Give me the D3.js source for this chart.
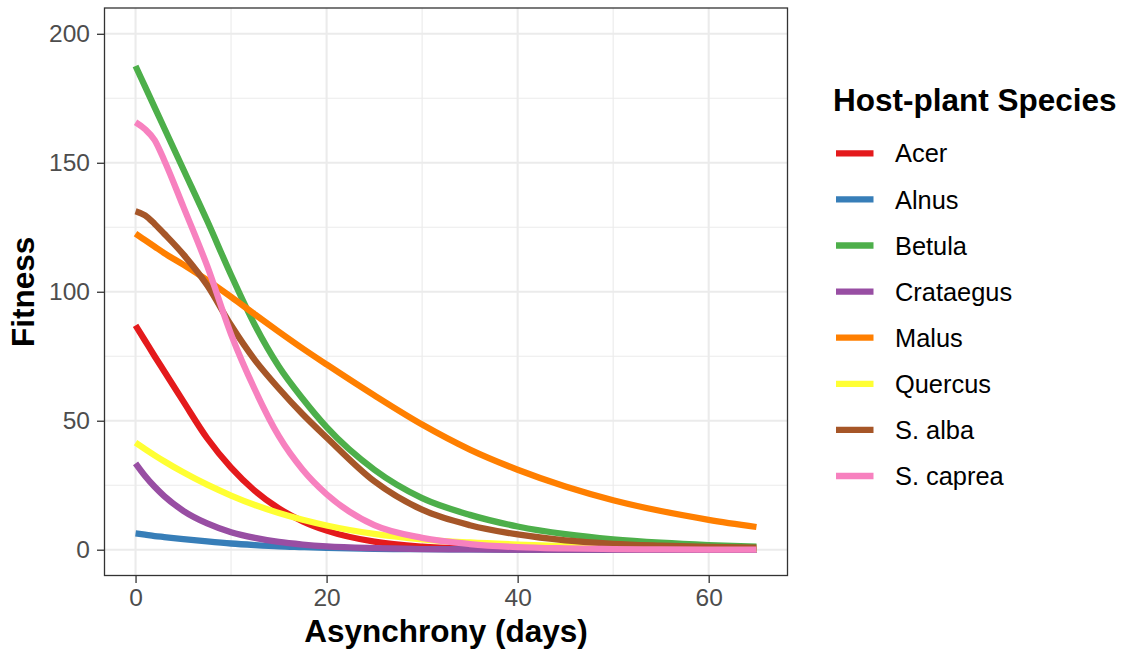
<!DOCTYPE html>
<html>
<head>
<meta charset="utf-8">
<script src="https://cdn.jsdelivr.net/npm/d3@7"></script>
<style>
  html, body { margin: 0; padding: 0; background: #ffffff; }
  svg { display: block; font-family: "Liberation Sans", Arial, sans-serif; }
</style>
</head>
<body>
<svg id="chart" width="1122" height="652"></svg>
<script>
// Asynchrony (days) at which each fitted curve is sampled
const days = [0, 1, 2, 3, 5, 7.5, 10, 12.5, 15, 17.5, 20, 25, 30, 35, 40, 45, 50, 55, 60, 65];

// Predicted fitness per host-plant species
const acer      = [87, 81, 75, 69.2, 57.5, 43.2, 31.8, 22.8, 16, 11, 7.4, 3.1, 1.2, 0.45, 0.15, 0.05, 0.02, 0, 0, 0];
const alnus     = [6.3, 5.8, 5.3, 4.9, 4.1, 3.2, 2.4, 1.8, 1.3, 1.0, 0.7, 0.35, 0.2, 0.1, 0.05, 0.03, 0.02, 0.01, 0.01, 0.01];
const betula    = [187.5, 179.5, 171.5, 163.5, 147.5, 127.5, 106.5, 87, 71, 58.5, 47.5, 31, 20, 13.5, 9, 6, 4, 2.7, 1.8, 1.2];
const crataegus = [33.5, 28.6, 24.4, 20.8, 15.1, 10.2, 6.8, 4.6, 3.0, 2.0, 1.3, 0.6, 0.25, 0.1, 0.05, 0.02, 0, 0, 0, 0];
const malus     = [122.5, 120, 117.5, 115, 110.5, 104.5, 98, 91.2, 84.5, 78, 71.8, 59.8, 48.5, 38.8, 31, 24.5, 19.2, 15, 11.6, 8.8];
const quercus   = [41.5, 39, 36.6, 34.3, 30, 25.2, 21, 17.3, 14.2, 11.6, 9.4, 6.1, 4, 2.8, 2, 1.4, 1, 0.7, 0.5, 0.35];
const sAlba     = [131.2, 129.6, 126.3, 122.5, 114.5, 102.5, 87, 73.5, 62.5, 52.5, 43.5, 26.5, 15.5, 9.5, 5.9, 3.6, 2.3, 1.6, 1.1, 0.8];
const sCaprea   = [165.7, 163, 158.8, 151, 133, 110, 83.5, 62, 44, 31, 21.5, 9.5, 4.6, 2.2, 1.0, 0.5, 0.25, 0.1, 0.05, 0];

const speciesNames = ["Acer", "Alnus", "Betula", "Crataegus", "Malus", "Quercus", "S. alba", "S. caprea"];
const speciesValues = [acer, alnus, betula, crataegus, malus, quercus, sAlba, sCaprea];
const speciesColors = ["#E41A1C", "#377EB8", "#4DAF4A", "#984EA3", "#FF7F00", "#FFFF33", "#A65628", "#F781BF"];

// Axis breaks and titles
const xTicks = [0, 20, 40, 60];
const xMinor = [10, 30, 50];
const yTicks = [0, 50, 100, 150, 200];
const yMinor = [25, 75, 125, 175];
const xTitle = "Asynchrony (days)";
const yTitle = "Fitness";
const legendTitle = "Host-plant Species";

const svg = d3.select("#chart");
const panel = { left: 104.5, right: 787.5, top: 8, bottom: 575.5 };

const x = d3.scaleLinear().domain([-3.25, 68.25]).range([panel.left, panel.right]);
const y = d3.scaleLinear().domain([-10, 210]).range([panel.bottom, panel.top]);

svg.append("rect").attr("width", 1122).attr("height", 652).attr("fill", "#ffffff");

// Grid: minor first, then major
const grid = svg.append("g");
grid.selectAll("line.xminor").data(xMinor).join("line")
  .attr("x1", d => x(d)).attr("x2", d => x(d))
  .attr("y1", panel.top).attr("y2", panel.bottom)
  .attr("stroke", "#EBEBEB").attr("stroke-width", 1.1);
grid.selectAll("line.yminor").data(yMinor).join("line")
  .attr("y1", d => y(d)).attr("y2", d => y(d))
  .attr("x1", panel.left).attr("x2", panel.right)
  .attr("stroke", "#EBEBEB").attr("stroke-width", 1.1);
grid.selectAll("line.xmajor").data(xTicks).join("line")
  .attr("x1", d => x(d)).attr("x2", d => x(d))
  .attr("y1", panel.top).attr("y2", panel.bottom)
  .attr("stroke", "#EBEBEB").attr("stroke-width", 2.1);
grid.selectAll("line.ymajor").data(yTicks).join("line")
  .attr("y1", d => y(d)).attr("y2", d => y(d))
  .attr("x1", panel.left).attr("x2", panel.right)
  .attr("stroke", "#EBEBEB").attr("stroke-width", 2.1);

// Fitted curves, drawn in legend order
const line = d3.line()
  .x(d => x(d[0]))
  .y(d => y(d[1]))
  .curve(d3.curveMonotoneX);

const clipId = "panel-clip";
svg.append("clipPath").attr("id", clipId).append("rect")
  .attr("x", panel.left).attr("y", panel.top)
  .attr("width", panel.right - panel.left).attr("height", panel.bottom - panel.top);

const curves = svg.append("g").attr("clip-path", `url(#${clipId})`);
speciesNames.forEach((name, i) => {
  const pts = days.map((d, j) => [d, speciesValues[i][j]]);
  curves.append("path")
    .datum(pts)
    .attr("d", line)
    .attr("fill", "none")
    .attr("stroke", speciesColors[i])
    .attr("stroke-width", 6.3)
    .attr("stroke-linecap", "butt")
    .attr("stroke-linejoin", "round");
});

// Panel border
svg.append("rect")
  .attr("x", panel.left).attr("y", panel.top)
  .attr("width", panel.right - panel.left).attr("height", panel.bottom - panel.top)
  .attr("fill", "none").attr("stroke", "#333333").attr("stroke-width", 1.3);

// Axes
const xAxis = svg.append("g")
  .attr("transform", `translate(0,${panel.bottom})`)
  .call(d3.axisBottom(x).tickValues(xTicks).tickSize(7.5).tickPadding(6).tickFormat(d3.format("d")));
const yAxis = svg.append("g")
  .attr("transform", `translate(${panel.left},0)`)
  .call(d3.axisLeft(y).tickValues(yTicks).tickSize(7.5).tickPadding(7).tickFormat(d3.format("d")));

[xAxis, yAxis].forEach(ax => {
  ax.select(".domain").remove();
  ax.selectAll(".tick line").attr("stroke", "#333333").attr("stroke-width", 1.3);
  ax.selectAll(".tick text")
    .attr("fill", "#4D4D4D")
    .style("font-size", "24.5px")
    .style("font-family", "'Liberation Sans', Arial, sans-serif");
});

// Axis titles
svg.append("text")
  .attr("x", (panel.left + panel.right) / 2)
  .attr("y", 642)
  .attr("text-anchor", "middle")
  .style("font-size", "31.5px").style("font-weight", "bold")
  .attr("fill", "#000000")
  .text(xTitle);

svg.append("text")
  .attr("transform", `translate(34,${(panel.top + panel.bottom) / 2}) rotate(-90)`)
  .attr("text-anchor", "middle")
  .style("font-size", "31.5px").style("font-weight", "bold")
  .attr("fill", "#000000")
  .text(yTitle);

// Legend
const legend = svg.append("g");
legend.append("text")
  .attr("x", 833).attr("y", 111)
  .style("font-size", "31.5px").style("font-weight", "bold")
  .attr("fill", "#000000")
  .text(legendTitle);

const rowY = d3.scalePoint().domain(speciesNames).range([153.3, 476]);
const rows = legend.selectAll("g.row").data(speciesNames).join("g")
  .attr("transform", d => `translate(0,${rowY(d)})`);
rows.append("line")
  .attr("x1", 836).attr("x2", 873.5)
  .attr("y1", 0).attr("y2", 0)
  .attr("stroke", (d, i) => speciesColors[i])
  .attr("stroke-width", 6.3);
rows.append("text")
  .attr("x", 895).attr("y", 0).attr("dy", "0.36em")
  .style("font-size", "25.4px")
  .attr("fill", "#000000")
  .text(d => d);
</script>
</body>
</html>
